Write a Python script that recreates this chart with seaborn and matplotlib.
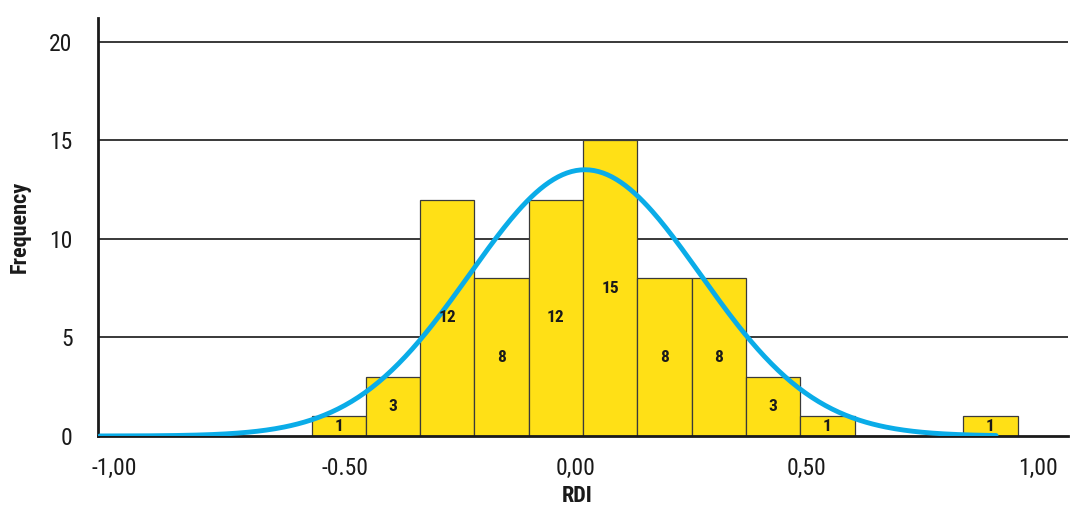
import numpy as np
import pandas as pd
import matplotlib
matplotlib.use("Agg")
import matplotlib.pyplot as plt
import seaborn as sns
from matplotlib import font_manager

# Histogram of RDI values (13 equal-width bins)
bin_start = -0.572
bin_width = 0.1176
counts = [1, 3, 12, 8, 12, 15, 8, 8, 3, 1, 0, 0, 1]

# Fitted normal curve
fit_mean = 0.02
fit_sd = 0.25
curve_range = (-1.03, 0.91)

x_ticks = [-1.0, -0.5, 0.0, 0.5, 1.0]
x_tick_labels = ["-1,00", "-0.50", "0,00", "0,50", "1,00"]
y_ticks = [0, 5, 10, 15, 20]

sns.set_theme(style="white")
names = {f.name for f in font_manager.fontManager.ttflist}
preferred = ["Roboto Condensed", "Archivo Narrow", "PT Sans Narrow", "Fira Sans Condensed",
             "IBM Plex Sans Condensed", "Liberation Sans"]
narrow = next((n for n in preferred if n in names), "DejaVu Sans")
plt.rcParams["font.family"] = [narrow, "DejaVu Sans"]

n_bins = len(counts)
edges = bin_start + bin_width * np.arange(n_bins + 1)
centers = (edges[:-1] + edges[1:]) / 2
hist_df = pd.DataFrame({"RDI": centers, "count": counts})

fig = plt.figure(figsize=(10.73, 5.17), dpi=100)
ax = fig.add_axes([0.091, 0.1567, 0.904, 0.808])

# grid lines behind everything
for yv in y_ticks[1:]:
    ax.axhline(yv, color="#2a2a2a", lw=1.3, zorder=0)

sns.histplot(data=hist_df, x="RDI", weights="count", bins=n_bins,
             binrange=(float(edges[0]), float(edges[-1])), ax=ax,
             color="#FFE016", alpha=1.0, edgecolor="#3a3a3a", linewidth=0.9,
             zorder=2)

# count labels in the middle of each bar
for c, n in zip(centers, counts):
    if n > 0:
        ax.text(c, n / 2, str(n), ha="center", va="center", fontsize=12.5,
                fontweight="bold", color="#1a1a1a", zorder=4)

# normal curve scaled to the histogram
total = sum(counts)
xs = np.linspace(curve_range[0], curve_range[1], 400)
ys = total * bin_width * np.exp(-0.5 * ((xs - fit_mean) / fit_sd) ** 2) / (fit_sd * np.sqrt(2 * np.pi))
sns.lineplot(x=xs, y=ys, ax=ax, color="#0AACE8", lw=3.5, zorder=3,
             solid_capstyle="round")

ax.set_xlim(-1.035, 1.065)
ax.set_ylim(0, 21.2)
ax.set_xticks(x_ticks)
ax.set_xticklabels(x_tick_labels)
ax.set_yticks(y_ticks)
ax.tick_params(axis="both", which="both", direction="out", length=9, width=1.8,
               color="#1a1a1a", labelsize=17, labelcolor="#1a1a1a")
ax.tick_params(axis="y", pad=9)
ax.tick_params(axis="x", pad=6)

for side in ["top", "right"]:
    ax.spines[side].set_visible(False)
for side in ["left", "bottom"]:
    ax.spines[side].set_color("#1a1a1a")
    ax.spines[side].set_linewidth(2.0)

ax.set_xlabel("RDI", fontsize=16, fontweight="bold", color="#1a1a1a", va="center")
ax.set_ylabel("Frequency", fontsize=16, fontweight="bold", color="#1a1a1a", va="center")
ax.xaxis.set_label_coords(0.494, -0.143)
ax.yaxis.set_label_coords(-0.080, 0.50)

fig.savefig("out.png", dpi=100)
